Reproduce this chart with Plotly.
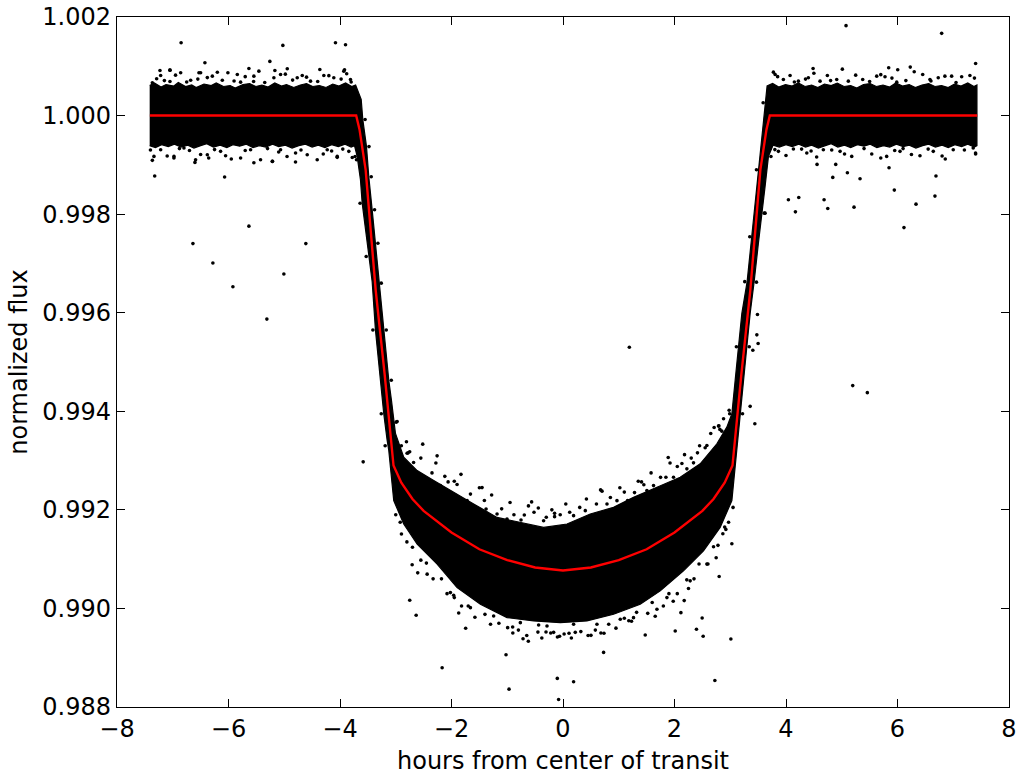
import plotly.graph_objects as go

# ---- light-curve data (hours from mid-transit, normalized flux) ----

# outline of the densely sampled part of the light curve (upper side, left to right)
core_upper_x = [-7.414, -7.33, -7.21, -7.12, -6.98, -6.90, -6.77, -6.66, -6.58, -6.44,
                -6.31, -6.22, -6.09, -5.97, -5.88, -5.74, -5.62, -5.51, -5.40, -5.29,
                -5.17, -5.05, -4.96, -4.83, -4.71, -4.60, -4.49, -4.37, -4.25, -4.13,
                -4.02, -3.90, -3.79, -3.72,
                -3.620, -3.591, -3.525, -3.484, -3.423, -3.364, -3.305, -3.215, -3.125, -3.077,
                -3.005, -2.857, -2.616, -2.319, -2.020, -1.602, -1.183, -0.765, -0.348, 0.072,
                0.489, 0.907, 1.265, 1.685, 2.102, 2.461, 2.760, 2.939, 3.029, 3.088,
                3.147, 3.208, 3.303, 3.387, 3.446, 3.505, 3.566, 3.625,
                3.661, 3.76, 3.87, 3.99, 4.11, 4.22, 4.34, 4.46, 4.57, 4.69,
                4.81, 4.92, 5.04, 5.16, 5.27, 5.39, 5.51, 5.62, 5.74, 5.86,
                5.97, 6.09, 6.21, 6.32, 6.44, 6.56, 6.67, 6.79, 6.91, 7.02,
                7.14, 7.26, 7.37, 7.425]
core_upper_f = [1.00061, 1.00066, 1.00058, 1.00063, 1.00060, 1.00067, 1.00059, 1.00062, 1.00057, 1.00064,
                1.00061, 1.00066, 1.00059, 1.00061, 1.00056, 1.00063, 1.00065, 1.00059, 1.00062, 1.00058,
                1.00066, 1.00060, 1.00063, 1.00057, 1.00062, 1.00065, 1.00059, 1.00061, 1.00057, 1.00064,
                1.00060, 1.00066, 1.00059, 1.00062,
                1.000326, 0.999919, 0.999375, 0.998765, 0.998087, 0.997410, 0.996596, 0.995646, 0.994629, 0.994222,
                0.993550, 0.993068, 0.992797, 0.992594, 0.992391, 0.992120, 0.991847, 0.991746, 0.991644, 0.991713,
                0.991916, 0.992051, 0.992254, 0.992458, 0.992661, 0.992934, 0.993341, 0.993678, 0.993951, 0.994629,
                0.995306, 0.995986, 0.996633, 0.997544, 0.998224, 0.998901, 0.999579, 1.000258,
                1.00060, 1.00065, 1.00058, 1.00063, 1.00060, 1.00066, 1.00059, 1.00062, 1.00057, 1.00064,
                1.00061, 1.00066, 1.00059, 1.00061, 1.00056, 1.00063, 1.00065, 1.00059, 1.00062, 1.00058,
                1.00066, 1.00060, 1.00063, 1.00057, 1.00062, 1.00065, 1.00059, 1.00061, 1.00057, 1.00064,
                1.00060, 1.00066, 1.00059, 1.00062]

# lower side of the same outline, left to right
core_lower_x = [-7.414, -7.31, -7.20, -7.08, -6.97, -6.85, -6.73, -6.62, -6.50, -6.39,
                -6.27, -6.15, -6.03, -5.92, -5.80, -5.68, -5.56, -5.45, -5.33, -5.21,
                -5.10, -4.98, -4.86, -4.74, -4.62, -4.50, -4.39, -4.27, -4.15, -4.03,
                -3.91, -3.80, -3.74,
                -3.692, -3.633, -3.602, -3.543, -3.484, -3.423, -3.364, -3.305, -3.215, -3.154,
                -3.125, -3.036, -2.857, -2.616, -2.258, -1.900, -1.482, -1.004, -0.527, -0.048,
                0.430, 0.907, 1.385, 1.744, 2.161, 2.520, 2.819, 3.029, 3.088, 3.118,
                3.177, 3.237, 3.297, 3.357, 3.428, 3.505, 3.566, 3.625, 3.685,
                3.769, 3.88, 4.00, 4.11, 4.23, 4.35, 4.46, 4.58, 4.70, 4.81,
                4.93, 5.05, 5.16, 5.28, 5.40, 5.51, 5.63, 5.75, 5.86, 5.98,
                6.10, 6.21, 6.33, 6.45, 6.56, 6.68, 6.80, 6.91, 7.03, 7.15,
                7.26, 7.38, 7.425]
core_lower_f = [0.99939, 0.99935, 0.99941, 0.99937, 0.99942, 0.99936, 0.99940, 0.99934, 0.99939, 0.99943,
                0.99936, 0.99940, 0.99935, 0.99941, 0.99938, 0.99942, 0.99935, 0.99939, 0.99936, 0.99942,
                0.99937, 0.99940, 0.99934, 0.99939, 0.99942, 0.99936, 0.99940, 0.99935, 0.99941, 0.99937,
                0.99942, 0.99936, 0.99939,
                0.999172, 0.998698, 0.998224, 0.997681, 0.997137, 0.996629, 0.995646, 0.994968, 0.993951, 0.993408,
                0.993204, 0.992187, 0.991713, 0.991306, 0.990899, 0.990423, 0.990085, 0.989813, 0.989746, 0.989711,
                0.989746, 0.989882, 0.990085, 0.990356, 0.990763, 0.991170, 0.991644, 0.992187, 0.992865, 0.993271,
                0.993951, 0.994629, 0.995306, 0.995986, 0.996623, 0.997410, 0.998020, 0.998562, 0.999172,
                0.99940, 0.99936, 0.99941, 0.99937, 0.99942, 0.99936, 0.99940, 0.99934, 0.99939, 0.99943,
                0.99936, 0.99940, 0.99935, 0.99941, 0.99938, 0.99942, 0.99935, 0.99939, 0.99936, 0.99942,
                0.99937, 0.99940, 0.99934, 0.99939, 0.99942, 0.99936, 0.99940, 0.99935, 0.99941, 0.99937,
                0.99942, 0.99936, 0.99939]

# individual exposures scattered around the edges of the band, and outliers
loose_x = [
    # out-of-transit, before ingress (above the band)
    -7.366, -7.289, -7.217, -7.050, -6.858, -6.679, -6.530, -6.290, -6.111, -6.011,
    -5.842, -5.783, -5.545, -5.455, -5.186, -5.066, -4.767, -4.677, -4.529, -4.290,
    -4.111, -3.932, -3.812, -7.229, -5.634, -5.168, -4.946, -4.362, -3.919,
    -7.15, -6.95, -6.75, -6.38, -6.20, -5.90, -5.70, -5.35, -4.98, -4.85,
    -4.40, -4.20, -3.98, -3.80, -7.05, -6.55, -5.55, -4.60, -3.88,
    # out-of-transit, before ingress (below the band)
    -7.337, -7.217, -6.978, -6.799, -6.590, -6.380, -6.142, -6.052, -5.783, -5.604,
    -5.425, -5.215, -5.066, -4.797, -4.588, -4.409, -4.229, -4.050, -3.842, -3.704,
    -6.602, -5.545, -5.210, -4.798, -6.979, -6.355, -7.366, -4.050,
    -7.40, -7.10, -6.88, -6.50, -6.25, -5.95, -5.70, -5.30, -4.95, -4.70,
    -4.30, -3.95, -3.78, -6.70, -5.10, -4.15,
    # out-of-transit, after egress (above the band)
    3.805, 3.953, 4.073, 4.222, 4.401, 4.611, 4.742, 4.910, 5.118, 5.376,
    5.627, 5.776, 5.986, 6.452, 6.582, 6.731, 6.971, 7.151, 7.299, 3.774,
    4.486, 5.011, 5.842, 6.004, 6.229,
    3.85, 4.15, 4.50, 4.80, 5.25, 5.50, 5.90, 6.30, 6.60, 6.85,
    7.05, 7.38, 4.35, 5.70, 6.15,
    # out-of-transit, after egress (below the band)
    3.715, 3.864, 4.133, 4.373, 4.670, 4.970, 5.179, 5.538, 5.806, 6.045,
    6.403, 6.642, 7.000, 7.358, 4.557, 4.892, 5.848, 6.857, 7.401,
    3.80, 4.00, 4.28, 4.55, 4.82, 5.05, 5.40, 5.70, 5.95, 6.25,
    6.55, 6.80, 7.20, 7.40, 4.45, 6.10,
    # ingress and egress flanks
    -3.55, -3.48, -3.44, -3.38, -3.32, -3.26, -3.17, -3.08,
    -3.73, -3.64, -3.53, -3.41, -3.26, -3.19,
    2.99, 3.11, 3.26, 3.35, 3.47, 3.59,
    3.22, 3.34, 3.47, 3.61, 3.73,
    # in transit, above the band
    -2.437, -2.199, -1.720, -1.572, -1.183, -1.004, -0.348, 0.190, 0.400, 0.789,
    0.968, 1.505, 1.624, 1.982, 2.341, -2.796, -2.975, -2.061, -1.900, -1.380,
    -0.753, 1.158, 1.283, 1.846, 2.222, 2.581, 2.814, -2.808, -2.778, 2.711,
    2.796, 2.849, -0.563, -0.443, -0.151, -0.151, -0.694, 1.409, -1.452, 0.674,
    1.887, 2.133, 2.341, 2.412, 2.789, -2.516, -2.258, -2.993,
    -2.90, -2.75, -2.68, -2.55, -2.35, -2.28, -2.12, -1.95, -1.83, -1.66,
    -1.50, -1.41, -1.28, -1.10, -0.95, -0.88, -0.62, -0.52, -0.30, -0.20,
    -0.05, 0.05, 0.12, 0.30, 0.42, 0.60, 0.70, 0.85, 1.02, 1.10,
    1.35, 1.45, 1.58, 1.75, 1.92, 2.05, 2.18, 2.30, 2.45, 2.55,
    2.65, 2.88, 2.98,
    # in transit, below the band
    -2.437, -2.020, -1.661, -1.244, -0.765, -0.287, 0.190, 0.609, 1.027, 1.265,
    1.685, 1.864, 2.281, 2.581, -2.749, -2.634, -1.746, -1.022, -0.717, -0.622,
    2.514, 2.394, 2.496, 2.013, 1.475, 2.115, 1.977, 2.174, 2.801, 2.747,
    3.029, 2.921, 2.867, 2.251, 1.654, 1.229, 0.735, 0.502, 0.220, 0.108,
    -0.168, -0.305, -0.061, -0.437, -0.993, -0.903, -1.871, -1.961, -2.606, -2.706,
    -2.898, 0.728,
    -3.00, -2.92, -2.80, -2.70, -2.55, -2.45, -2.33, -2.18, -2.08, -1.95,
    -1.82, -1.70, -1.58, -1.40, -1.30, -1.15, -0.90, -0.80, -0.65, -0.45,
    -0.38, -0.22, -0.10, 0.02, 0.15, 0.32, 0.45, 0.58, 0.68, 0.82,
    0.95, 1.10, 1.18, 1.32, 1.52, 1.60, 1.80, 1.90, 2.05, 2.22,
    2.35, 2.44, 2.60, 2.70, 2.78, 2.90, 2.97, 3.05,
    # ingress / egress strays
    -3.584, 3.625, 3.488, 3.477, 3.500, 3.405, 3.357, 3.441,
    # distant outliers
    -6.850, -5.025, -4.081, -3.901, -5.258, -6.423, -6.500, -7.050, -7.324, -6.070,
    -5.634, -6.638, -4.613, -6.280, -5.921, -5.007, -5.312, 5.077, 6.792, 7.401,
    4.839, 5.101, 5.328, 6.690, 5.943, 4.043, 4.229, 4.169, 4.683, 4.749,
    5.220, 6.332, 6.672, 6.116, 5.197, 5.459, 1.190, -2.168, -0.968, -0.102,
    0.190, -0.079, 2.724, 3.011,
]
loose_f = [
    1.000665, 1.000747, 1.000814, 1.000922, 1.000869, 1.000718, 1.000869, 1.000800, 1.000718, 1.000869,
    1.000834, 1.000678, 1.000800, 1.000901, 1.000767, 1.000834, 1.000767, 1.000814, 1.000698, 1.000814,
    1.000767, 1.000901, 1.000732, 1.000916, 1.000956, 1.000916, 1.000950, 1.000936, 1.000930,
    1.00071, 1.00082, 1.00068, 1.00077, 1.00088, 1.00070, 1.00079, 1.00067, 1.00084, 1.00072,
    1.00069, 1.00081, 1.00074, 1.00068, 1.00069, 1.00074, 1.00069, 1.00078, 1.00085,
    0.999172, 0.999308, 0.999172, 0.999343, 0.999105, 0.999206, 0.999274, 0.999186, 0.999139, 0.999308,
    0.999105, 0.999070, 0.999308, 0.999241, 0.999206, 0.999105, 0.999308, 0.999172, 0.999274, 0.999105,
    0.999050, 0.999044, 0.999071, 0.999058, 0.999139, 0.999139, 0.999091, 0.999152,
    0.99930, 0.99918, 0.99933, 0.99921, 0.99931, 0.99912, 0.99929, 0.99933, 0.99917, 0.99930,
    0.99922, 0.99932, 0.99915, 0.99929, 0.99926, 0.99928,
    1.000834, 1.000732, 1.000814, 1.000698, 1.000767, 1.000698, 1.000814, 1.000732, 1.000698, 1.000732,
    1.000800, 1.000787, 1.000678, 1.000834, 1.000732, 1.000767, 1.000800, 1.000787, 1.000814, 1.000881,
    1.000956, 1.000942, 1.000970, 1.000930, 1.000983,
    1.00079, 1.00068, 1.00086, 1.00071, 1.00082, 1.00069, 1.00076, 1.00089, 1.00070, 1.00080,
    1.00067, 1.00076, 1.00074, 1.00083, 1.00071,
    0.999343, 0.999274, 0.999322, 0.999241, 0.999308, 0.999274, 0.999172, 0.999220, 0.999172, 0.999274,
    0.999186, 0.999274, 0.999308, 0.999343, 0.999009, 0.999009, 0.998942, 0.999119, 0.999220,
    0.99931, 0.99919, 0.99932, 0.99916, 0.99930, 0.99922, 0.99933, 0.99914, 0.99929, 0.99921,
    0.99932, 0.99918, 0.99930, 0.99924, 0.99928, 0.99933,
    0.99992, 0.99937, 0.99876, 0.99809, 0.99741, 0.99660, 0.99565, 0.99463,
    0.99917, 0.99822, 0.99714, 0.99565, 0.99395, 0.99330,
    0.99395, 0.99531, 0.99663, 0.99754, 0.99890, 1.00026,
    0.99395, 0.99531, 0.99662, 0.99802, 0.99917,
    0.992628, 0.992492, 0.992187, 0.992051, 0.991916, 0.991815, 0.991780, 0.991882, 0.991984, 0.992120,
    0.992187, 0.992391, 0.992492, 0.992661, 0.992797, 0.993150, 0.993794, 0.992567, 0.992513, 0.992018,
    0.991794, 0.992187, 0.992350, 0.992661, 0.992832, 0.993306, 0.993632, 0.993381, 0.993157, 0.993672,
    0.993706, 0.993597, 0.992161, 0.992039, 0.991929, 0.991862, 0.991896, 0.992567, 0.992452, 0.992405,
    0.993062, 0.992940, 0.992954, 0.993157, 0.993699, 0.993333, 0.993096, 0.993780,
    0.99330, 0.99318, 0.99296, 0.99305, 0.99275, 0.99295, 0.99268, 0.99258, 0.99272, 0.99232,
    0.99245, 0.99219, 0.99230, 0.99202, 0.99215, 0.99190, 0.99208, 0.99195, 0.99185, 0.99200,
    0.99190, 0.99212, 0.99195, 0.99205, 0.99222, 0.99212, 0.99238, 0.99225, 0.99245, 0.99236,
    0.99258, 0.99251, 0.99275, 0.99266, 0.99295, 0.99288, 0.99312, 0.99305, 0.99330, 0.99326,
    0.99355, 0.99385, 0.99402,
    0.990696, 0.990321, 0.990016, 0.989847, 0.989711, 0.989644, 0.989678, 0.989678, 0.989780, 0.989813,
    0.989984, 0.990220, 0.990560, 0.990899, 0.990167, 0.989861, 0.989597, 0.989060, 0.989386, 0.989333,
    0.989434, 0.989577, 0.989807, 0.989542, 0.989461, 0.989914, 0.990146, 0.990159, 0.990647, 0.991027,
    0.991312, 0.991603, 0.991516, 0.990403, 0.989841, 0.989739, 0.989495, 0.989454, 0.989515, 0.989495,
    0.989515, 0.989522, 0.989434, 0.989664, 0.989610, 0.989623, 0.989908, 0.990268, 0.990722, 0.990885,
    0.991509, 0.989108,
    0.99190, 0.99175, 0.99135, 0.99124, 0.99098, 0.99092, 0.99060, 0.99060, 0.99030, 0.99022,
    0.99005, 0.99005, 0.98982, 0.98988, 0.98968, 0.98970, 0.98950, 0.98956, 0.98945, 0.98952,
    0.98940, 0.98950, 0.98942, 0.98948, 0.98940, 0.98953, 0.98945, 0.98956, 0.98950, 0.98968,
    0.98960, 0.98980, 0.98975, 0.98992, 0.98990, 0.99012, 0.99005, 0.99030, 0.99030, 0.99058,
    0.99060, 0.99090, 0.99090, 0.99125, 0.99128, 0.99165, 0.99175, 0.99205,
    0.992974, 0.998020, 0.995965, 0.995551, 0.995376, 0.995239, 0.994100, 0.993748,
    1.001479, 1.001424, 1.001479, 1.001438, 1.001099, 1.001072, 1.000869, 1.000922, 0.998773, 0.998753,
    0.997756, 0.997402, 0.997402, 0.997009, 0.996527, 0.996785, 0.995870, 1.001825, 1.001668, 1.001058,
    0.998745, 0.998840, 0.998718, 0.998773, 0.998488, 0.998291, 0.998338, 0.998047, 0.998291, 0.998114,
    0.998142, 0.998203, 0.998366, 0.997727, 0.994521, 0.994378, 0.995300, 0.988796, 0.988362, 0.988580,
    0.988511, 0.988152, 0.988539, 0.989379,
]

# best-fit transit model
model_x = [-7.41, -3.71, -3.65, -3.54, -3.36, -3.20, -3.04, -2.90, -2.70, -2.50,
           -2.00, -1.50, -1.00, -0.50, 0.00, 0.50, 1.00, 1.50, 2.00, 2.50,
           2.70, 2.90, 3.04, 3.20, 3.36, 3.54, 3.65, 3.71, 7.43]
model_f = [1.00000, 1.00000, 0.99972, 0.99890, 0.99646, 0.99476, 0.99290, 0.99255, 0.99222, 0.99198,
           0.99154, 0.99120, 0.99098, 0.99083, 0.99077, 0.99083, 0.99098, 0.99120, 0.99154, 0.99198,
           0.99222, 0.99255, 0.99290, 0.99476, 0.99646, 0.99890, 0.99972, 1.00000, 1.00000]

x_ticks = [-8, -6, -4, -2, 0, 2, 4, 6, 8]
y_ticks = [0.988, 0.990, 0.992, 0.994, 0.996, 0.998, 1.000, 1.002]

FONT = "DejaVu Sans"
FONT_SIZE = 24

fig = go.Figure()

# dense band of exposures
fig.add_trace(go.Scatter(
    x=core_upper_x + core_lower_x[::-1],
    y=core_upper_f + core_lower_f[::-1],
    mode="lines", fill="toself", fillcolor="black",
    line=dict(color="black", width=1.2),
    hoverinfo="skip", showlegend=False,
))

# sparse exposures
fig.add_trace(go.Scatter(
    x=loose_x, y=loose_f, mode="markers",
    marker=dict(color="black", size=3.6, line=dict(width=0)),
    showlegend=False,
))

# model curve
fig.add_trace(go.Scatter(
    x=model_x, y=model_f, mode="lines",
    line=dict(color="#ff0000", width=2.4),
    showlegend=False,
))

axis_common = dict(
    showgrid=False, zeroline=False,
    showline=True, linecolor="black", linewidth=1.3, mirror="ticks",
    ticks="inside", ticklen=8, tickwidth=1.2, tickcolor="black",
    tickfont=dict(family=FONT, size=FONT_SIZE, color="black"),
)

fig.update_xaxes(
    range=[-8, 8], tickvals=x_ticks,
    ticktext=[("\u2212" if v < 0 else "") + str(abs(v)) for v in x_ticks],
    title=dict(text="hours from center of transit",
               font=dict(family=FONT, size=FONT_SIZE, color="black"), standoff=10),
    **axis_common,
)
fig.update_yaxes(
    range=[0.988, 1.002], tickvals=y_ticks, ticktext=[f"{v:.3f}" for v in y_ticks],
    title=dict(text="normalized flux",
               font=dict(family=FONT, size=FONT_SIZE, color="black"), standoff=7),
    **axis_common,
)

fig.update_layout(
    width=1021, height=775,
    margin=dict(l=117, r=12, t=17, b=68, autoexpand=False),
    paper_bgcolor="white", plot_bgcolor="white",
    font=dict(family=FONT, color="black"),
)

fig.write_html("out.html")
